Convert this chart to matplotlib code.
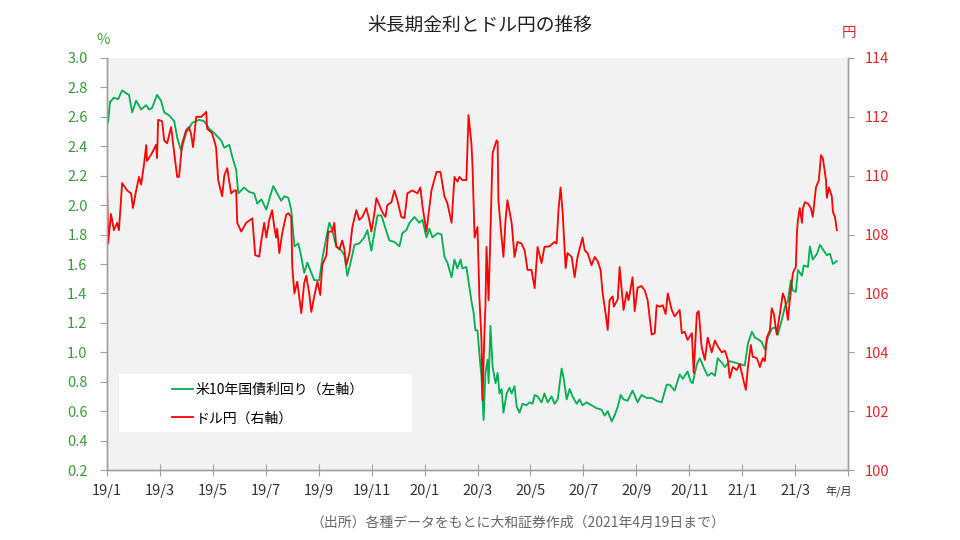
import numpy as np
import matplotlib
matplotlib.use("Agg")
import matplotlib.pyplot as plt
from matplotlib.patches import Rectangle
from matplotlib.lines import Line2D

plt.rcParams['font.family'] = ['Noto Sans CJK JP', 'DejaVu Sans']

# time axis in months since 2019/1
yield_t = [0.00, 0.04, 0.11, 0.26, 0.42, 0.57, 0.72, 0.83, 0.95, 1.10, 1.29, 1.48, 1.59, 1.70, 1.89,
           2.04, 2.16, 2.35, 2.54, 2.65, 2.80, 2.99, 3.22, 3.48, 3.67, 3.86, 4.05, 4.31, 4.43, 4.62,
           4.73, 4.88, 4.96, 5.18, 5.37, 5.56, 5.68, 5.83, 6.02, 6.13, 6.28, 6.43, 6.58, 6.70, 6.85,
           6.96, 7.08, 7.23, 7.34, 7.45, 7.57, 7.72, 7.83, 8.02, 8.13, 8.32, 8.40, 8.51, 8.66, 8.82,
           8.97, 9.08, 9.23, 9.35, 9.53, 9.72, 9.84, 9.99, 10.10, 10.22, 10.37, 10.56, 10.67, 10.86,
           11.05, 11.16, 11.31, 11.43, 11.62, 11.80, 11.92, 12.07, 12.18, 12.30, 12.49, 12.64, 12.75,
           12.86, 13.02, 13.13, 13.24, 13.36, 13.43, 13.58, 13.77, 13.85, 13.92, 14.00, 14.07, 14.15,
           14.19, 14.23, 14.30, 14.38, 14.42, 14.49, 14.57, 14.68, 14.76, 14.83, 14.91, 14.98, 15.10,
           15.21, 15.29, 15.40, 15.48, 15.59, 15.70, 15.85, 15.97, 16.08, 16.16, 16.27, 16.42, 16.53,
           16.65, 16.80, 16.91, 17.03, 17.18, 17.25, 17.37, 17.48, 17.59, 17.75, 17.86, 17.97, 18.12,
           18.31, 18.50, 18.69, 18.80, 18.92, 19.07, 19.18, 19.30, 19.41, 19.52, 19.67, 19.86, 20.05,
           20.20, 20.39, 20.58, 20.77, 20.96, 21.15, 21.26, 21.45, 21.64, 21.76, 21.94, 22.06, 22.13,
           22.29, 22.40, 22.59, 22.70, 22.85, 22.97, 23.08, 23.23, 23.35, 23.53, 23.72, 23.91, 24.10,
           24.22, 24.37, 24.48, 24.59, 24.74, 24.86, 24.97, 25.12, 25.24, 25.35, 25.50, 25.62, 25.73,
           25.84, 25.92, 26.03, 26.11, 26.26, 26.33, 26.49, 26.56, 26.67, 26.83, 26.94, 27.05, 27.20,
           27.32, 27.43, 27.58]
yield_pct = [2.66, 2.56, 2.70, 2.73, 2.72, 2.78, 2.76, 2.75, 2.63, 2.71, 2.65, 2.68, 2.65, 2.66, 2.75,
             2.71, 2.63, 2.61, 2.57, 2.46, 2.37, 2.49, 2.56, 2.58, 2.57, 2.52, 2.49, 2.44, 2.39, 2.41,
             2.33, 2.24, 2.08, 2.12, 2.09, 2.08, 2.01, 2.04, 1.97, 2.04, 2.13, 2.08, 2.03, 2.06, 2.05,
             1.97, 1.72, 1.74, 1.65, 1.54, 1.61, 1.54, 1.49, 1.49, 1.63, 1.81, 1.88, 1.83, 1.72, 1.70,
             1.66, 1.52, 1.63, 1.73, 1.74, 1.78, 1.83, 1.69, 1.81, 1.93, 1.93, 1.82, 1.76, 1.75,
             1.72, 1.81, 1.83, 1.88, 1.92, 1.88, 1.90, 1.78, 1.84, 1.78, 1.81, 1.80, 1.65,
             1.61, 1.51, 1.63, 1.57, 1.63, 1.57, 1.58, 1.35, 1.27, 1.15, 1.15, 0.99, 0.83,
             0.68, 0.54, 0.86, 0.95, 0.79, 1.18, 0.90, 0.79, 0.86, 0.72, 0.75, 0.59, 0.72,
             0.76, 0.72, 0.77, 0.63, 0.59, 0.65, 0.64, 0.66, 0.65, 0.71, 0.70, 0.66, 0.72,
             0.66, 0.70, 0.65, 0.68, 0.89, 0.83, 0.68, 0.75, 0.70, 0.65, 0.68, 0.64, 0.66,
             0.64, 0.62, 0.61, 0.57, 0.60, 0.53, 0.57, 0.63, 0.71, 0.68, 0.67, 0.74, 0.66,
             0.71, 0.69, 0.69, 0.67, 0.66, 0.78, 0.78, 0.74, 0.85, 0.82, 0.87, 0.80, 0.79,
             0.92, 0.96, 0.88, 0.84, 0.86, 0.84, 0.96, 0.93, 0.90, 0.94, 0.93, 0.92, 0.91,
             1.06, 1.14, 1.10, 1.09, 1.07, 1.02, 1.10, 1.16, 1.17, 1.12, 1.22, 1.31, 1.35,
             1.49, 1.42, 1.41, 1.56, 1.52, 1.59, 1.58, 1.72, 1.63, 1.67, 1.73, 1.70, 1.66,
             1.67, 1.60, 1.62]

usdjpy_t = [0.00, 0.04, 0.15, 0.26, 0.38, 0.45, 0.57, 0.76, 0.91, 0.98, 1.10, 1.21, 1.29, 1.40, 1.48,
            1.51, 1.70, 1.85, 1.89, 1.93, 2.08, 2.16, 2.27, 2.42, 2.54, 2.65, 2.72, 2.84, 2.99, 3.10,
            3.18, 3.25, 3.37, 3.56, 3.75, 3.78, 3.97, 4.12, 4.20, 4.35, 4.43, 4.54, 4.69, 4.81, 4.88,
            4.92, 5.07, 5.26, 5.49, 5.60, 5.75, 5.83, 5.94, 6.02, 6.13, 6.24, 6.32, 6.39, 6.43, 6.51,
            6.62, 6.77, 6.85, 6.96, 7.00, 7.08, 7.19, 7.34, 7.45, 7.53, 7.64, 7.72, 7.83, 7.95, 8.06,
            8.13, 8.29, 8.36, 8.51, 8.59, 8.66, 8.78, 8.89, 8.97, 9.04, 9.16, 9.27, 9.42, 9.53, 9.65,
            9.80, 9.91, 9.99, 10.10, 10.18, 10.29, 10.40, 10.52, 10.59, 10.75, 10.86, 10.97, 11.12,
            11.24, 11.35, 11.54, 11.73, 11.84, 11.92, 12.07, 12.26, 12.45, 12.60, 12.75, 12.86, 13.02,
            13.13, 13.24, 13.32, 13.43, 13.58, 13.66, 13.77, 13.81, 13.89, 14.00, 14.07, 14.15, 14.19,
            14.26, 14.30, 14.34, 14.42, 14.49, 14.57, 14.72, 14.76, 14.79, 14.91, 14.98, 15.06, 15.13,
            15.29, 15.40, 15.51, 15.66, 15.78, 15.89, 16.04, 16.16, 16.27, 16.42, 16.53, 16.72, 16.91,
            16.99, 17.06, 17.14, 17.22, 17.33, 17.40, 17.56, 17.67, 17.78, 17.97, 18.05, 18.16, 18.31,
            18.43, 18.54, 18.65, 18.73, 18.84, 18.92, 18.99, 19.11, 19.15, 19.30, 19.37, 19.52, 19.64,
            19.71, 19.83, 19.86, 19.94, 20.05, 20.20, 20.32, 20.43, 20.58, 20.70, 20.77, 20.89, 21.00,
            21.11, 21.19, 21.34, 21.45, 21.64, 21.72, 21.83, 21.94, 22.10, 22.17, 22.29, 22.36, 22.47,
            22.59, 22.70, 22.85, 22.97, 23.08, 23.23, 23.35, 23.46, 23.53, 23.65, 23.80, 23.91, 24.03,
            24.14, 24.22, 24.33, 24.40, 24.56, 24.67, 24.78, 24.86, 24.93, 25.05, 25.12, 25.20, 25.31,
            25.39, 25.54, 25.62, 25.73, 25.84, 25.92, 26.03, 26.07, 26.11, 26.18, 26.26, 26.30, 26.37,
            26.49, 26.60, 26.67, 26.79, 26.90, 26.98, 27.05, 27.17, 27.20, 27.28, 27.39, 27.43, 27.51,
            27.58]
usdjpy = [109.7, 107.7, 108.7, 108.15, 108.4, 108.15, 109.75, 109.5, 109.4, 108.9, 109.5, 109.96, 109.7, 110.4, 111.04,
          110.5, 110.77, 111.05, 110.6, 111.9, 111.85, 111.2, 111.1, 111.65, 110.77, 109.96, 109.96, 111.1, 111.55, 111.65,
          111.4, 110.97, 112.0, 112.0, 112.17, 111.6, 111.45, 110.97, 109.85, 109.3, 110.0, 110.26, 109.4, 109.5, 109.5,
          108.4, 108.1, 108.4, 108.55, 107.3, 107.25, 107.8, 108.4, 107.9, 108.5, 108.83, 108.26, 107.9, 108.2, 107.37,
          108.05, 108.67, 108.73, 108.6, 106.9, 106.0, 106.4, 105.33, 106.35, 106.6, 106.0, 105.37, 105.9, 106.4, 105.95,
          106.96, 107.3, 108.1, 108.1, 108.4, 107.6, 107.5, 107.8, 107.5, 106.96, 107.37, 108.26, 108.83, 108.5, 108.6,
          108.9, 108.5, 108.1, 108.7, 109.24, 109.0, 108.77, 108.6, 109.0, 109.1, 109.5, 109.17, 108.6,
          108.56, 109.4, 109.5, 109.4, 109.6, 108.96, 108.1, 109.5, 110.13, 110.13, 109.3, 109.07, 108.4,
          109.96, 109.8, 109.96, 109.85, 109.85, 112.06, 111.1, 110.36, 107.9, 108.26, 105.9, 104.4, 102.38,
          104.65, 105.55, 107.58, 105.77, 108.05, 110.77, 111.2, 111.15, 109.17, 107.9, 107.24, 108.5, 109.17,
          108.4, 107.24, 107.75, 107.7, 107.47, 106.8, 106.8, 106.18, 107.58, 107.03, 107.58, 107.6, 107.75,
          107.7, 108.83, 109.6, 108.73, 106.86, 107.37, 107.24, 106.55, 107.24, 107.9, 107.47, 107.37, 106.96,
          107.24, 107.1, 106.8, 106.0, 105.33, 104.76, 105.77, 105.9, 105.55, 105.8, 106.9, 105.44, 106.05,
          105.77, 106.4, 106.55, 105.4, 106.2, 106.25, 106.1, 105.77, 104.6, 104.65, 105.6, 105.55, 105.6,
          105.3, 106.0, 105.44, 105.22, 105.44, 104.65, 104.7, 104.42, 104.65, 103.3, 105.33, 105.4, 104.18,
          103.74, 104.5, 104.0, 104.4, 104.2, 104.0, 104.05, 103.75, 103.13, 103.5, 103.4, 103.6, 103.13,
          102.72, 103.5, 104.25, 103.85, 103.8, 103.5, 103.8, 103.7, 104.5, 104.75, 105.5, 105.3, 104.6,
          105.1, 106.0, 105.8, 105.1, 106.1, 106.7, 106.9, 108.05, 108.5, 108.9, 108.4, 108.9, 109.1,
          109.05, 108.9, 108.6, 109.6, 109.85, 110.7, 110.6, 109.85, 109.25, 109.6, 109.3, 108.77, 108.6,
          108.15]

tick_months = list(range(0, 30, 2))
tick_labels = ["19/1", "19/3", "19/5", "19/7", "19/9", "19/11", "20/1", "20/3",
               "20/5", "20/7", "20/9", "20/11", "21/1", "21/3", ""]

GREEN = "#00b050"
RED = "#ff0000"
GREEN_TXT = "#3c9a3c"
RED_TXT = "#e3262a"
AXIS_GRAY = "#a0a0a0"

fig = plt.figure(figsize=(9.6, 5.4), dpi=100)
ax = fig.add_axes([0.1115, 0.1296, 0.7718, 0.763])
ax.set_facecolor("#f2f2f2")
ax2 = ax.twinx()

ax.plot(yield_t, yield_pct, color=GREEN, linewidth=1.3)
ax2.plot(usdjpy_t, usdjpy, color=RED, linewidth=1.3)

ax.set_xlim(0, 28)
ax.set_ylim(0.2, 3.0)
ax2.set_ylim(100, 114)
ax.set_xticks(tick_months)
ax.set_xticklabels(tick_labels)
ax.set_yticks(np.arange(0.2, 3.01, 0.2))
ax.set_yticklabels([f"{v:.1f}" for v in np.arange(0.2, 3.01, 0.2)])
ax2.set_yticks(range(100, 115, 2))

for a in (ax, ax2):
    a.spines["top"].set_visible(False)
    for s in ("left", "right", "bottom"):
        a.spines[s].set_color(AXIS_GRAY)
        a.spines[s].set_linewidth(1.0)

ax.tick_params(axis="x", direction="inout", length=8, color=AXIS_GRAY,
               labelsize=10.5, labelcolor="#333333", pad=6)
ax.tick_params(axis="y", direction="out", length=5, color=AXIS_GRAY,
               labelsize=10.5, labelcolor=GREEN_TXT, pad=9)
ax2.tick_params(axis="y", direction="out", length=4, color=AXIS_GRAY,
                labelsize=10.5, labelcolor=RED_TXT, pad=8)

# unit labels
fig.text(103 / 960, 1 - 40 / 540, "%", color=GREEN_TXT, fontsize=10.5, ha="center", va="center")
fig.text(849 / 960, 1 - 33 / 540, "円", color=RED_TXT, fontsize=10.5, ha="center", va="center")
fig.text(839 / 960, 1 - 491 / 540, "年/月", color="#333333", fontsize=8, ha="center", va="center")

fig.text(0.5, 1 - 25 / 540, "米長期金利とドル円の推移", fontsize=13.5, color="#222222",
         ha="center", va="center")
fig.text(518 / 960, 1 - 523 / 540, "（出所）各種データをもとに大和証券作成（2021年4月19日まで）",
         fontsize=10, color="#666666", ha="center", va="center")

# legend on a white box
ax2.add_patch(Rectangle((0.0162, 0.092), 0.396, 0.141, transform=ax2.transAxes,
                        facecolor="white", edgecolor="none", zorder=5))
handles = [Line2D([], [], color=GREEN, linewidth=1.3),
           Line2D([], [], color=RED, linewidth=1.3)]
leg = ax2.legend(handles, ["米10年国債利回り（左軸）", "ドル円（右軸）"],
                 loc="upper left", bbox_to_anchor=(0.088, 0.212), frameon=False,
                 fontsize=10, handlelength=1.5, handletextpad=0.2, labelspacing=1.05,
                 borderaxespad=0, borderpad=0)
leg.set_zorder(6)

fig.savefig("out.png", dpi=100)
